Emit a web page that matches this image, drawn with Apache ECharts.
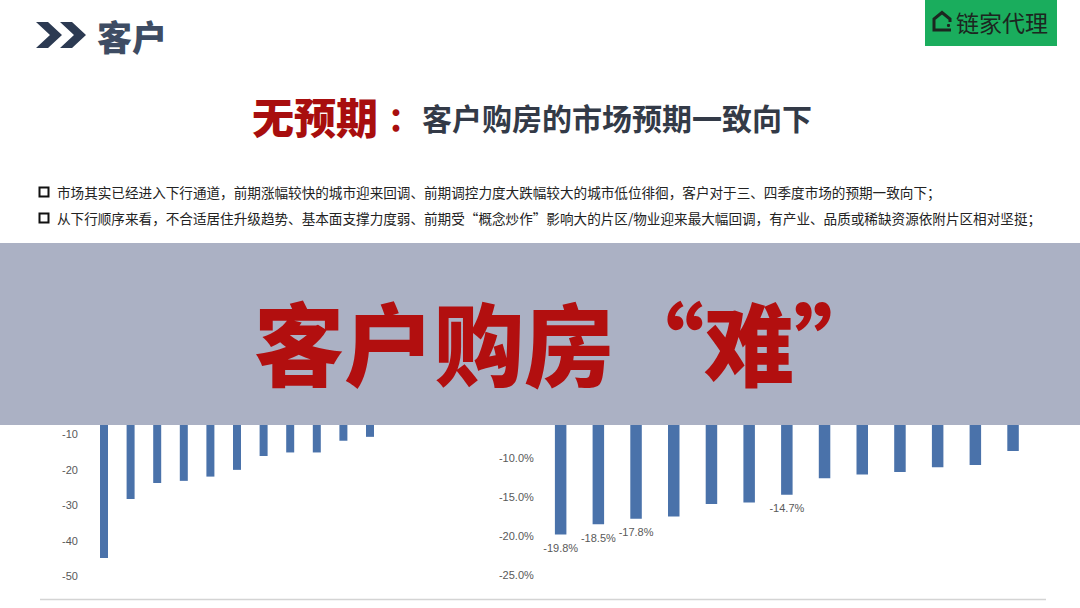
<!DOCTYPE html>
<html>
<head>
<meta charset="utf-8">
<script src="https://cdn.jsdelivr.net/npm/echarts@6/dist/echarts.min.js"></script>
<style>
html,body{margin:0;padding:0;background:#fff;}
#c{width:1080px;height:608px;}
</style>
</head>
<body>
<div id="c"></div>
<script>
// ---- data ----
var leftCategories = ['1','2','3','4','5','6','7','8','9','10','11'];
var leftValues = [-44.9, -28.3, -23.8, -23.2, -22.0, -20.1, -16.2, -15.2, -15.2, -11.9, -10.8];
var leftTicks = [-50, -40, -30, -20, -10, 0];

var rightCategories = ['1','2','3','4','5','6','7','8','9','10','11','12','13'];
var rightValues = [-19.8, -18.5, -17.8, -17.5, -15.9, -15.7, -14.7, -12.6, -12.1, -11.8, -11.2, -10.9, -9.1];
var rightLabelled = [0, 1, 2, 6];
var rightTicks = [-25, -20, -15, -10, -5, 0];

var bullet1 = '市场其实已经进入下行通道，前期涨幅较快的城市迎来回调、前期调控力度大跌幅较大的城市低位徘徊，客户对于三、四季度市场的预期一致向下；';
var bullet2 = '从下行顺序来看，不合适居住升级趋势、基本面支撑力度弱、前期受“概念炒作”影响大的片区/物业迎来最大幅回调，有产业、品质或稀缺资源依附片区相对坚挺；';

var cjk = '"Noto Sans CJK SC", "Noto Sans", sans-serif';
var narrow = '"Liberation Sans Narrow", "Arial Narrow", "Liberation Sans", sans-serif';
var barColor = '#4a72aa';

var chart = echarts.init(document.getElementById('c'), null, {renderer: 'svg'});

var rightData = rightValues.map(function (v, i) {
  return {value: v, label: {show: rightLabelled.indexOf(i) >= 0}};
});

var option = {
  backgroundColor: '#ffffff',
  animation: false,
  grid: [
    {left: 90.7, width: 292.6, top: 398.5, height: 177.5},
    {left: 541.8, width: 490.1, top: 380, height: 195}
  ],
  xAxis: [
    {type: 'category', gridIndex: 0, data: leftCategories, show: false},
    {type: 'category', gridIndex: 1, data: rightCategories, show: false}
  ],
  yAxis: [
    {type: 'value', gridIndex: 0, min: leftTicks[0], max: leftTicks[leftTicks.length - 1], interval: 10,
      axisLine: {show: false}, axisTick: {show: false}, splitLine: {show: false},
      axisLabel: {color: '#595959', fontFamily: narrow, fontSize: 11, margin: 12.7,
        formatter: function (v) { return v === 0 ? '' : String(v); }}},
    {type: 'value', gridIndex: 1, min: rightTicks[0], max: rightTicks[rightTicks.length - 1], interval: 5,
      axisLine: {show: false}, axisTick: {show: false}, splitLine: {show: false},
      axisLabel: {color: '#595959', fontFamily: narrow, fontSize: 11, margin: 8,
        formatter: function (v) { return v === 0 ? '' : v.toFixed(1) + '%'; }}}
  ],
  series: [
    {type: 'bar', xAxisIndex: 0, yAxisIndex: 0, data: leftValues, barWidth: 8,
      itemStyle: {color: barColor}},
    {type: 'bar', xAxisIndex: 1, yAxisIndex: 1, data: rightData, barWidth: 11.5,
      itemStyle: {color: barColor},
      label: {position: 'bottom', distance: 8, color: '#595959', fontFamily: narrow, fontSize: 11,
        formatter: function (p) { return p.value.toFixed(1) + '%'; }}}
  ],
  graphic: [
    // header chevrons
    {type: 'polygon', z: 100, shape: {points: [[36,22],[48,22],[62,35],[48,48],[36,48],[50,35]]}, style: {fill: '#2c3a52'}},
    {type: 'polygon', z: 100, shape: {points: [[60,22],[72,22],[86,35],[72,48],[60,48],[74,35]]}, style: {fill: '#2c3a52'}},
    {type: 'text', z: 100, x: 97, y: 35, style: {text: '客户', fill: '#3e4c63', font: '900 35px ' + cjk, textVerticalAlign: 'middle'}},
    // logo
    {type: 'rect', z: 100, shape: {x: 925, y: 0, width: 132, height: 46}, style: {fill: '#1aad5d'}},
    {type: 'polyline', z: 101, shape: {points: [[950,22],[950,19],[942,12.5],[934,19],[934,30],[951,30]]}, style: {stroke: '#1c2620', lineWidth: 3, fill: null}},
    {type: 'circle', z: 101, shape: {cx: 948.5, cy: 25.5, r: 1.6}, style: {fill: '#1c2620'}},
    {type: 'text', z: 101, x: 956, y: 22, style: {text: '链家代理', fill: '#1c2620', font: '400 23px ' + cjk, textVerticalAlign: 'middle'}},
    // title
    {type: 'text', z: 100, x: 252, y: 115, style: {text: '无预期', fill: '#a80e0e', font: '900 42px ' + cjk, textVerticalAlign: 'middle'}},
    {type: 'text', z: 100, x: 388, y: 117, style: {text: '：', fill: '#a80e0e', font: '900 32px ' + cjk, textVerticalAlign: 'middle'}},
    {type: 'text', z: 100, x: 422, y: 117, style: {text: '客户购房的市场预期一致向下', fill: '#333a47', font: '700 30px ' + cjk, textVerticalAlign: 'middle'}},
    // bullets
    {type: 'rect', z: 100, shape: {x: 39.5, y: 187.5, width: 9, height: 9}, style: {fill: null, stroke: '#111', lineWidth: 2}},
    {type: 'text', z: 100, x: 57, y: 192, style: {text: bullet1, fill: '#222', font: '400 13.6px ' + cjk, textVerticalAlign: 'middle'}},
    {type: 'rect', z: 100, shape: {x: 39.5, y: 213.5, width: 9, height: 9}, style: {fill: null, stroke: '#111', lineWidth: 2}},
    {type: 'text', z: 100, x: 57, y: 218, style: {text: bullet2, fill: '#222', font: '400 13.6px ' + cjk, textVerticalAlign: 'middle'}},
    // banner
    {type: 'rect', z: 200, shape: {x: 0, y: 243, width: 1080, height: 182}, style: {fill: '#abb1c4'}},
    {type: 'text', z: 201, x: 569, y: 340, style: {text: '客户购房“难”', fill: '#b20f0f', font: '900 90px ' + cjk,
      textAlign: 'center', textVerticalAlign: 'middle',
      shadowColor: 'rgba(0,0,0,0.35)', shadowBlur: 4, shadowOffsetX: 2, shadowOffsetY: 3}},
    // bottom rule
    {type: 'line', z: 100, shape: {x1: 40, y1: 599.5, x2: 1046, y2: 599.5}, style: {stroke: '#d4d4d4', lineWidth: 1.5}}
  ]
};
chart.setOption(option);
</script>
</body>
</html>
